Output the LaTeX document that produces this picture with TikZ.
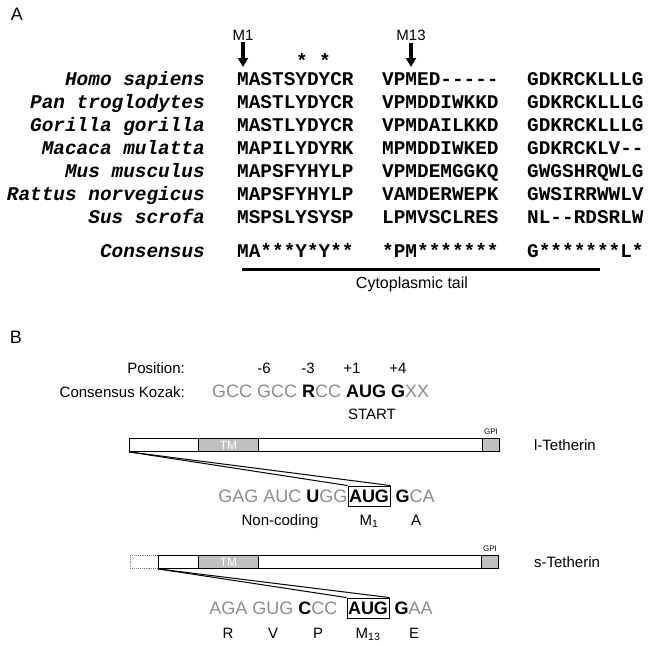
\documentclass[tikz,border=0pt]{standalone}
\usepackage{fontspec}
\setmainfont{Liberation Sans}
\newfontfamily\courfont{Liberation Mono}[Ligatures=TeXOff]
\usepackage{tikz}
\usetikzlibrary{positioning}
\usetikzlibrary{arrows.meta}
\tikzset{>=Triangle}
\usepackage{xcolor}
\definecolor{seqgray}{HTML}{8C8C8C}
\definecolor{boxgray}{HTML}{C0C0C0}

\tikzset{
  species/.style={anchor=base east, inner sep=0pt, font=\courfont\bfseries\itshape\fontsize{19.4}{20}\selectfont},
  aaseq/.style={anchor=base west, inner sep=0pt, font=\courfont\bfseries\fontsize{19.4}{20}\selectfont},
  lbl/.style={inner sep=0pt, font=\fontsize{15}{17}\selectfont},
  nuc/.style={inner sep=0pt, text=seqgray, font=\fontsize{18}{20}\selectfont},
  augbox/.style={draw, line width=0.9pt, inner xsep=1pt, inner ysep=3.5pt, text height=13pt, text depth=0pt, font=\bfseries\fontsize{18}{20}\selectfont},
  bar/.style={draw, line width=0.9pt, fill=white, minimum height=13pt, inner sep=0pt, anchor=north west},
  graybar/.style={bar, fill=boxgray, text=white, font=\fontsize{12}{12}\selectfont},
  tailarrow/.style={line width=3.6pt, -{Triangle[width=10pt,length=9pt]}},
}

\begin{document}
\begin{tikzpicture}[x=1pt, y=-1pt]
\useasboundingbox (0,0) rectangle (650,645);

% panel A
\node[font=\fontsize{18}{20}\selectfont, inner sep=0pt] (panelA) at (17,14) {A};

\node[lbl] (mone) at (243,35) {M1};
\node[lbl] (mthirteen) at (411,35) {M13};
\coordinate (monetip) at (243,67);
\coordinate (mthirteentip) at (411,67);
\draw[tailarrow] ([yshift=-2pt]mone.south) -- (monetip);
\draw[tailarrow] ([yshift=-2pt]mthirteen.south) -- (mthirteentip);
\node[inner sep=0pt, font=\courfont\bfseries\fontsize{19.4}{20}\selectfont] (astone) at (302,60) {*};
\node[inner sep=0pt, font=\courfont\bfseries\fontsize{19.4}{20}\selectfont] (asttwo) at (325,60) {*};

\node[species] (hsap) at (205,85.5) {Homo sapiens};
\node[aaseq] (hsapa) at (237,85.5) {MASTSYDYCR};
\node[aaseq] (hsapb) at (382,85.5) {VPMED-----};
\node[aaseq] (hsapc) at (527,85.5) {GDKRCKLLLG};

\node[species] (ptro) at (205,108.5) {Pan troglodytes};
\node[aaseq] (ptroa) at (237,108.5) {MASTLYDYCR};
\node[aaseq] (ptrob) at (382,108.5) {VPMDDIWKKD};
\node[aaseq] (ptroc) at (527,108.5) {GDKRCKLLLG};

\node[species] (ggor) at (205,131.5) {Gorilla gorilla};
\node[aaseq] (ggora) at (237,131.5) {MASTLYDYCR};
\node[aaseq] (ggorb) at (382,131.5) {VPMDAILKKD};
\node[aaseq] (ggorc) at (527,131.5) {GDKRCKLLLG};

\node[species] (mmul) at (205,154.5) {Macaca mulatta};
\node[aaseq] (mmula) at (237,154.5) {MAPILYDYRK};
\node[aaseq] (mmulb) at (382,154.5) {MPMDDIWKED};
\node[aaseq] (mmulc) at (527,154.5) {GDKRCKLV--};

\node[species] (mmus) at (205,177.5) {Mus musculus};
\node[aaseq] (mmusa) at (237,177.5) {MAPSFYHYLP};
\node[aaseq] (mmusb) at (382,177.5) {VPMDEMGGKQ};
\node[aaseq] (mmusc) at (527,177.5) {GWGSHRQWLG};

\node[species] (rnor) at (205,200.5) {Rattus norvegicus};
\node[aaseq] (rnora) at (237,200.5) {MAPSFYHYLP};
\node[aaseq] (rnorb) at (382,200.5) {VAMDERWEPK};
\node[aaseq] (rnorc) at (527,200.5) {GWSIRRWWLV};

\node[species] (sscr) at (205,223.5) {Sus scrofa};
\node[aaseq] (sscra) at (237,223.5) {MSPSLYSYSP};
\node[aaseq] (sscrb) at (382,223.5) {LPMVSCLRES};
\node[aaseq] (sscrc) at (527,223.5) {NL--RDSRLW};

\node[species] (cons) at (205,257.5) {Consensus};
\node[aaseq] (consa) at (237,257.5) {MA***Y*Y**};
\node[aaseq] (consb) at (382,257.5) {*PM*******};
\node[aaseq] (consc) at (527,257.5) {G*******L*};

\coordinate (tailstart) at (242,269);
\coordinate (tailend) at (600,269);
\draw[line width=3pt] (tailstart) -- (tailend);
\node[inner sep=0pt, font=\fontsize{16}{18}\selectfont] (taillbl) at (412,284) {Cytoplasmic tail};

% panel B
\node[font=\fontsize{18}{20}\selectfont, inner sep=0pt] (panelB) at (16,337) {B};

\node[lbl, anchor=base east] (poslbl) at (185,373.5) {Position:};
\node[lbl, anchor=base] (pmsix) at (264,373.5) {-6};
\node[lbl, anchor=base] (pmthree) at (308,373.5) {-3};
\node[lbl, anchor=base] (ppone) at (352,373.5) {+1};
\node[lbl, anchor=base] (ppfour) at (398,373.5) {+4};

\node[lbl, anchor=base east] (kozlbl) at (185,397.5) {Consensus Kozak:};
\node[nuc, anchor=base west] (kozak) at (212,397.5) {GCC GCC {\color{black}\bfseries R}CC {\color{black}\bfseries AUG G}XX};
\node[lbl, anchor=base] (start) at (372,419) {START};

% l-Tetherin
\node[bar, minimum width=370pt] (lbar) at (129,438) {};
\node[graybar, minimum width=60pt] (ltm) at (198,438) {TM};
\node[graybar, minimum width=17pt] (lgpi) at (482,438) {};
\node[inner sep=0pt, font=\fontsize{8}{9}\selectfont, above=3pt of lgpi] (lgpilbl) {GPI};
\node[lbl, anchor=west, right=34pt of lbar] (lname) {l-Tetherin};

\node[augbox] (laug) at (369,496) {AUG};
\node[nuc, anchor=base east] (lpre) at (laug.base west) {GAG AUC {\color{black}\bfseries U}GG};
\node[nuc, anchor=base west] (lpost) at ([xshift=5pt]laug.base east) {{\color{black}\bfseries G}CA};
\draw[line width=1pt] (lbar.south west) -- (laug.north west);
\draw[line width=1pt] (lbar.south west) -- (laug.north east);

\node[lbl, anchor=base] (noncod) at (280,525) {Non-coding};
\node[lbl, anchor=base] (lmone) at (369,525) {M\textsubscript{1}};
\node[lbl, anchor=base] (lala) at (416,525) {A};

% s-Tetherin
\node[bar, draw=gray, densely dotted, minimum width=28pt] (sdot) at (130,555) {};
\node[bar, minimum width=340pt] (sbar) at (158,555) {};
\node[graybar, minimum width=60pt] (stm) at (198,555) {TM};
\node[graybar, minimum width=17pt] (sgpi) at (481,555) {};
\node[inner sep=0pt, font=\fontsize{8}{9}\selectfont, above=3pt of sgpi] (sgpilbl) {GPI};
\node[lbl, anchor=west] (sname) at ([xshift=35pt]sbar.east) {s-Tetherin};

\node[augbox] (saug) at (368,608) {AUG};
\node[nuc, anchor=base east] (spre) at ([xshift=-9pt]saug.base west) {AGA GUG {\color{black}\bfseries C}CC};
\node[nuc, anchor=base west] (spost) at ([xshift=5pt]saug.base east) {{\color{black}\bfseries G}AA};
\draw[line width=1pt] (sbar.south west) -- (saug.north west);
\draw[line width=1pt] (sbar.south west) -- (saug.north east);

\node[lbl, anchor=base] (sarg) at (228,638.5) {R};
\node[lbl, anchor=base] (sval) at (273,638.5) {V};
\node[lbl, anchor=base] (spro) at (318,638.5) {P};
\node[lbl, anchor=base] (smthirteen) at (368,638.5) {M\textsubscript{13}};
\node[lbl, anchor=base] (sglu) at (414,638.5) {E};
\end{tikzpicture}
\end{document}
